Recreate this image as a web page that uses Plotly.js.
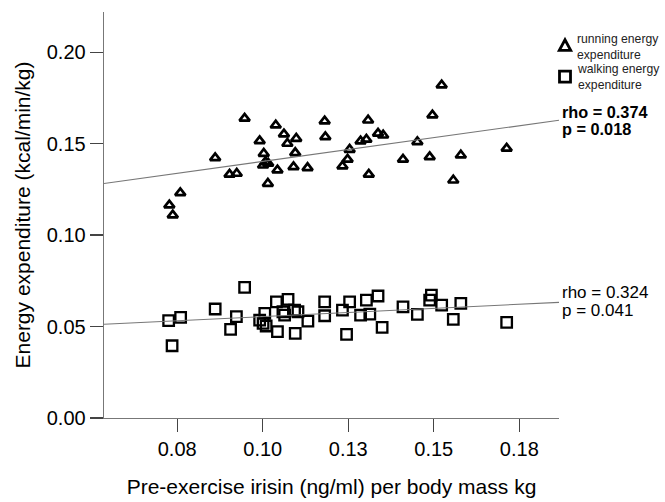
<!DOCTYPE html>
<html>
<head>
<meta charset="utf-8">
<script src="https://cdn.plot.ly/plotly-3.0.1.min.js"></script>
<style>html,body{margin:0;padding:0;background:#fff;}#chart{width:665px;height:502px;}</style>
</head>
<body>
<div id="chart"></div>
<script>
// ---- data ----
const runX = [0.0947,0.1038,0.1062,0.1098,0.1072,0.0991,0.1181,0.1183,0.1308,0.1337,0.1352,0.1303,0.1286,0.1254,0.1248,0.1233,0.1095,0.1003,0.1008,0.1001,0.1016,0.1043,0.1090,0.1131,0.1015,0.1310,0.0861,0.0903,0.0924,0.0759,0.0727,0.0737,0.1523,0.1496,0.1452,0.1410,0.1488,0.1579,0.1713,0.1557];
const runY = [0.1638,0.1601,0.1552,0.1528,0.1501,0.1515,0.1623,0.1537,0.1628,0.1556,0.1546,0.1523,0.1514,0.1468,0.1414,0.1377,0.1450,0.1446,0.1400,0.1382,0.1392,0.1355,0.1373,0.1368,0.1282,0.1332,0.1422,0.1332,0.1337,0.1231,0.1164,0.1109,0.1820,0.1656,0.1510,0.1414,0.1428,0.1437,0.1474,0.1300];
const walkX = [0.0947,0.0861,0.0760,0.0725,0.0735,0.0923,0.0906,0.1040,0.1074,0.1006,0.0991,0.1001,0.1010,0.1043,0.1059,0.1064,0.1093,0.1103,0.1095,0.1132,0.1181,0.1181,0.1233,0.1254,0.1245,0.1303,0.1337,0.1286,0.1313,0.1349,0.1410,0.1452,0.1493,0.1488,0.1523,0.1579,0.1557,0.1713];
const walkY = [0.0714,0.0596,0.0550,0.0532,0.0395,0.0554,0.0485,0.0635,0.0649,0.0572,0.0535,0.0517,0.0503,0.0472,0.0581,0.0563,0.0590,0.0581,0.0463,0.0530,0.0635,0.0559,0.0590,0.0635,0.0457,0.0645,0.0667,0.0563,0.0568,0.0496,0.0608,0.0567,0.0672,0.0645,0.0617,0.0627,0.0539,0.0523];
const legendLabels = ['running energy<br>expenditure','walking energy<br>expenditure'];
const fitSlope = [0.260, 0.0902];
const fitIntercept = [0.1143, 0.0464];
const fitRho = ['rho = 0.374','rho = 0.324'];
const fitP = ['p = 0.018','p = 0.041'];
const xTickVals = [0.075,0.100,0.125,0.150,0.175];
const xTickText = ['0.08','0.10','0.13','0.15','0.18'];
const yTickVals = [0,0.05,0.10,0.15,0.20];
const yTickText = ['0.00','0.05','0.10','0.15','0.20'];

// ---- layout geometry ----
const W = 665, H = 502, L = 104, R = 106, T = 12, B = 84;
const PW = W - L - R, PH = H - T - B;
const xRange = [0.0536, 0.1866];
const yRange = [0, 0.222];
const px = v => (v - L) / PW;          // pixel -> paper x
const py = v => (H - B - v) / PH;      // pixel -> paper y
const FONT = '"Liberation Sans", Arial, sans-serif';

const traces = [
  {x: runX, y: runY, type: 'scatter', mode: 'markers', name: 'running',
   marker: {symbol: 'triangle-up-open', size: 9, color: '#000', line: {width: 2.7, color: '#000'}}},
  {x: walkX, y: walkY, type: 'scatter', mode: 'markers', name: 'walking',
   marker: {symbol: 'square-open', size: 10.5, color: '#000', line: {width: 2.3, color: '#000'}}}
];
for (let i = 0; i < 2; i++) {
  traces.push({x: xRange, y: xRange.map(v => fitIntercept[i] + fitSlope[i] * v),
    type: 'scatter', mode: 'lines', line: {color: '#777', width: 1.1}, hoverinfo: 'skip'});
}

// legend symbols as shapes (paper coordinates)
function ptStr(x, y) { return px(x).toFixed(5) + ',' + py(y).toFixed(5); }
const shapes = [
  {type: 'path', xref: 'paper', yref: 'paper',
   path: 'M' + ptStr(559.3, 50.3) + ' L' + ptStr(570.7, 50.3) + ' L' + ptStr(565, 39.8) + ' Z',
   line: {color: '#000', width: 2.8}, fillcolor: 'rgba(0,0,0,0)'},
  {type: 'rect', xref: 'paper', yref: 'paper',
   x0: px(559.5), x1: px(570.5), y0: py(82.2), y1: py(71.2),
   line: {color: '#000', width: 2.8}, fillcolor: 'rgba(0,0,0,0)'}
];

const ann = [];
function txt(s, x, y, size, bold, color) {
  ann.push({text: bold ? '<b>' + s + '</b>' : s, xref: 'paper', yref: 'paper', x: px(x), y: py(y),
    xanchor: 'left', yanchor: 'middle', showarrow: false, align: 'left',
    font: {family: FONT, size: size, color: color || '#000'}});
}
txt(legendLabels[0], 575, 47, 12.2, false, '#222');
txt(legendLabels[1], 575, 77.3, 12.2, false, '#222');
txt(fitRho[0], 559.5, 111.5, 16.3, true);
txt(fitP[0], 559.5, 128.5, 16.3, true);
txt(fitRho[1], 559.5, 292.3, 17, false);
txt(fitP[1], 559.5, 310, 17, false);

const layout = {
  width: W, height: H,
  margin: {l: L, r: R, t: T, b: B},
  paper_bgcolor: '#fff', plot_bgcolor: '#fff',
  showlegend: false,
  font: {family: FONT, color: '#000'},
  xaxis: {range: xRange, tickvals: xTickVals, ticktext: xTickText, ticks: 'outside', ticklen: 13,
    tickwidth: 1.3, tickcolor: '#444', showline: true, linecolor: '#777', linewidth: 1.3,
    showgrid: false, zeroline: false, tickfont: {size: 20, family: FONT, color: '#000'},
    title: {text: 'Pre-exercise irisin (ng/ml) per body mass kg', font: {size: 21, family: FONT, color: '#000'}, standoff: 20}},
  yaxis: {range: yRange, tickvals: yTickVals, ticktext: yTickText, ticks: 'outside', ticklen: 13,
    tickwidth: 1.3, tickcolor: '#444', showline: true, linecolor: '#777', linewidth: 1.3,
    showgrid: false, zeroline: false, tickfont: {size: 20, family: FONT, color: '#000'},
    title: {text: 'Energy expenditure (kcal/min/kg)', font: {size: 21, family: FONT, color: '#000'}, standoff: 10}},
  shapes: shapes,
  annotations: ann
};
Plotly.newPlot('chart', traces, layout, {displayModeBar: false, staticPlot: true});
</script>
</body>
</html>
